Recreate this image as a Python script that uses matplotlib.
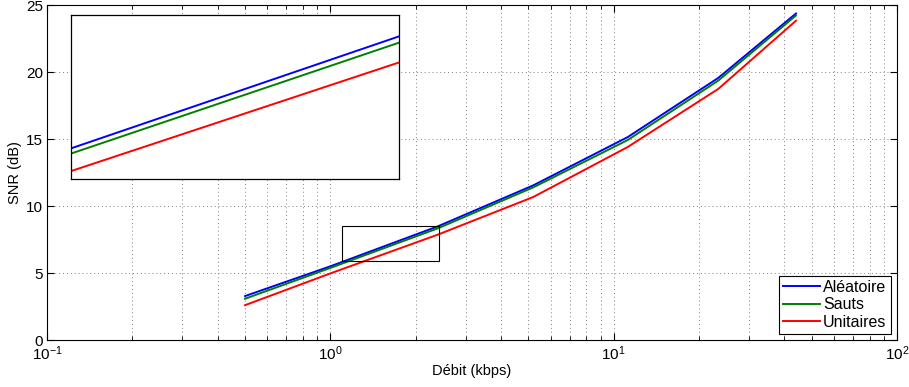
import matplotlib

matplotlib.use("Agg")
import matplotlib.pyplot as plt
from matplotlib.patches import Rectangle
from matplotlib.ticker import LogLocator, NullFormatter
import numpy as np

plt.rcParams['font.family'] = ['Liberation Sans', 'DejaVu Sans']
plt.rcParams['mathtext.fontset'] = 'custom'
plt.rcParams['mathtext.rm'] = 'Liberation Sans'

# debit (kbps) and SNR (dB)
debit = [0.5, 1.0, 2.4, 5.2, 11.2, 23.4, 44.0]
snr_aleatoire = [3.28, 5.50, 8.49, 11.54, 15.14, 19.56, 24.37]
snr_sauts = [3.08, 5.38, 8.34, 11.39, 14.92, 19.36, 24.22]
snr_unitaires = [2.60, 4.97, 7.87, 10.67, 14.40, 18.74, 23.83]
labels = ['Aléatoire', 'Sauts', 'Unitaires']
colors = ['#0000ff', '#008000', '#ff0000']

zoom_x = (1.1, 2.42)
zoom_y = (5.86, 8.54)

fig = plt.figure(figsize=(9.09, 3.87), dpi=100)
ax = fig.add_axes([0.0517, 0.1214, 0.9351, 0.8656])

series = [snr_aleatoire, snr_sauts, snr_unitaires]
for y, lab, c in zip(series, labels, colors):
    ax.plot(debit, y, color=c, lw=1.4, label=lab)

ax.set_xscale('log')
ax.set_xlim(0.1, 100)
ax.set_ylim(0, 25)
ax.set_yticks([0, 5, 10, 15, 20, 25])
ax.xaxis.set_minor_locator(LogLocator(base=10, subs=np.arange(2, 10)))
ax.xaxis.set_minor_formatter(NullFormatter())
ax.tick_params(which='both', direction='in', top=True, right=True, labelsize=11)
ax.tick_params(which='major', length=5, pad=3)
ax.tick_params(which='minor', length=3)
grid_style = dict(linestyle=(0, (1, 3)), color='0.5', lw=0.7)
ax.grid(True, which='major', **grid_style)
ax.grid(True, which='minor', axis='x', **grid_style)
ax.set_xlabel('Débit (kbps)', fontsize=10.5, labelpad=1)
ax.set_ylabel('SNR (dB)', fontsize=10.5, labelpad=3)
for s in ax.spines.values():
    s.set_linewidth(0.8)

ax.add_patch(Rectangle((zoom_x[0], zoom_y[0]), zoom_x[1] - zoom_x[0],
                       zoom_y[1] - zoom_y[0], fill=False, ec='black', lw=0.8, zorder=5))

leg = ax.legend(loc='lower right', fontsize=11.5, fancybox=False, edgecolor='black',
                framealpha=1, handlelength=2.3, handletextpad=0.2, borderpad=0.25,
                labelspacing=0.15, borderaxespad=0.4)
leg.get_frame().set_linewidth(0.8)

# inset
axi = fig.add_axes([0.0778, 0.5375, 0.361, 0.4238])
for y, c in zip(series, colors):
    axi.plot(debit, y, color=c, lw=1.4)
axi.set_xscale('log')
axi.set_xlim(1.1, 2.4)
axi.set_ylim(5.1, 9.0)
axi.set_xticks([])
axi.set_yticks([])
axi.minorticks_off()
for s in axi.spines.values():
    s.set_linewidth(0.9)

fig.savefig('out.png', dpi=100)
